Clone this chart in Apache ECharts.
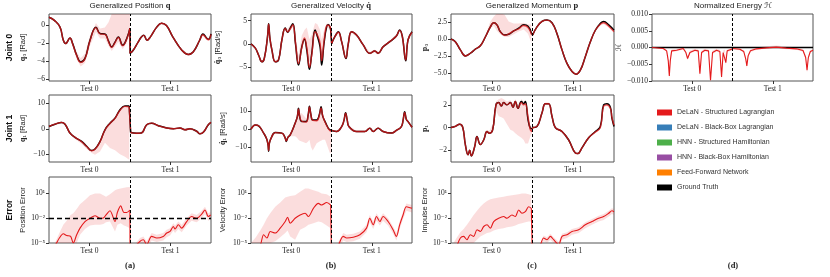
<!DOCTYPE html>
<html><head><meta charset="utf-8">
<script src="https://cdn.jsdelivr.net/npm/echarts@6/dist/echarts.min.js"></script>
<style>html,body{margin:0;padding:0;background:#fff}#c{width:830px;height:277px}</style>
</head><body><div id="c"></div>
<script>
// ---------------- DATA ----------------
const TEST_LABELS = ['Test 0', 'Test 1'];
const LEGEND_NAMES = ['DeLaN - Structured Lagrangian','DeLaN - Black-Box Lagrangian','HNN - Structured Hamiltonian','HNN - Black-Box Hamiltonian','Feed-Forward Network','Ground Truth'];

// Generalized position, joint 0
const posJ0_x = [0,0.07,0.136,0.177,0.206,0.259,0.292,0.342,0.391,0.444,0.506,0.58,0.63,0.69,0.735,0.774,0.815,0.856,0.91,0.96,0.999, 1.001,1.04,1.10,1.14,1.17,1.21,1.25,1.33,1.39,1.45,1.53,1.64,1.72,1.78,1.86,1.90,1.95,1.97,2.0];
const posJ0_truth = [0.84,0.47,-0.25,-1.7,-2.07,-1.45,-2.07,-3.35,-4.1,-3.7,-1.7,-0.25,-0.95,-1.0,-1.8,-2.44,-1.9,-1.35,-2.25,-1.5,-0.35, -3.16,-2.8,-1.9,-1.35,-1.16,-1.7,-1.35,-0.25,0.18,-0.07,-1.35,-2.8,-3.27,-3.0,-1.7,-1.0,-1.5,-1.6,-1.0];
const posJ0_pred = [0.84,0.47,-0.25,-1.7,-2.07,-1.45,-2.1,-3.4,-4.15,-3.75,-1.75,-0.3,-1.0,-1.05,-1.85,-2.5,-1.95,-1.4,-2.3,-1.55,-0.4, -3.16,-2.8,-1.9,-1.35,-1.16,-1.7,-1.35,-0.25,0.18,-0.07,-1.35,-2.8,-3.27,-3.0,-1.7,-1.1,-1.55,-1.65,-1.05];
const posJ0_lo = [0.8,0.42,-0.32,-1.8,-2.2,-1.6,-2.3,-3.8,-4.6,-4.2,-2.3,-0.8,-1.5,-1.5,-2.3,-2.9,-2.4,-1.9,-2.7,-2.0,-1.0, -3.25,-2.9,-2.0,-1.45,-1.26,-1.8,-1.45,-0.35,0.08,-0.17,-1.45,-2.9,-3.37,-3.1,-1.8,-1.25,-1.7,-1.75,-1.15];
const posJ0_hi = [0.88,0.52,-0.18,-1.6,-1.95,-1.3,-1.85,-3.0,-3.7,-3.2,-1.2,0.2,-0.4,-0.3,0.3,1.2,2.5,3,3,3,3, -3.07,-2.7,-1.8,-1.25,-1.06,-1.6,-1.25,-0.15,0.28,0.03,-1.25,-2.7,-3.17,-2.9,-1.6,-0.9,-1.4,-1.45,-0.9];

// Generalized position, joint 1
const posJ1_x = [0,0.074,0.156,0.198,0.259,0.321,0.403,0.465,0.527,0.568,0.63,0.691,0.753,0.815,0.877,0.938,0.99, 1.008,1.08,1.14,1.206,1.267,1.35,1.453,1.535,1.617,1.679,1.74,1.823,1.864,1.905,1.967,2.0];
const posJ1_truth = [0.9,1.8,2.5,1.8,-1.7,-3.4,-5,-6.9,-8.6,-8,-5,-0.4,2.2,4.2,7.5,9,9, -1.5,-1.8,-1.7,1.6,2.2,1.2,0.3,0,0.3,-0.4,0,-1,-2,-1.4,1.6,2.5];
const posJ1_pred = [0.9,1.8,2.5,1.8,-1.7,-3.4,-5.1,-7.0,-8.7,-8.1,-5.1,-0.5,2.1,4.1,7.3,8.8,8.6, -1.5,-1.8,-1.7,1.6,2.2,1.2,0.3,0,0.3,-0.4,0,-1,-2,-1.4,1.6,2.5];
const posJ1_lo = [0.5,1.4,2.1,1.3,-2.2,-4.0,-6.0,-8.0,-9.6,-10.2,-9.0,-5.5,-7.6,-8.5,-10.0,-11.0,-12.2, -1.9,-2.2,-2.1,1.2,1.8,0.8,-0.1,-0.4,-0.1,-0.8,-0.4,-1.4,-2.4,-1.8,1.2,2.1];
const posJ1_hi = [1.3,2.2,2.9,2.2,-1.3,-3.0,-4.6,-6.5,-8.2,-7.6,-4.6,0,2.6,4.6,7.9,9.3,9.2, -1.1,-1.4,-1.3,2.0,2.6,1.6,0.7,0.4,0.7,0,0.4,-0.6,-1.6,-1.0,2.0,2.9];

// Position error
const posErr_x = [0,0.074,0.128,0.177,0.218,0.267,0.3,0.342,0.383,0.444,0.506,0.568,0.63,0.671,0.704,0.753,0.815,0.844,0.885,0.926,0.959,0.999, 1.001,1.02,1.123,1.165,1.206,1.267,1.33,1.41,1.453,1.494,1.535,1.556,1.597,1.638,1.7,1.761,1.823,1.885,1.926,1.967,1.996];
const posErr_pred = [1e-6,5e-6,4e-5,1.3e-4,8e-5,6.3e-5,1e-5,1e-4,6.3e-4,4e-3,0.01,0.02,0.01,0.011,0.025,0.08,4e-3,0.05,0.32,0.05,0.05,0.1, 1e-7,1e-6,1.6e-5,2.5e-5,6.3e-6,6.3e-5,4e-5,6.3e-5,1.6e-4,2.5e-4,1e-3,5e-4,1.6e-3,6.3e-4,4e-3,0.016,0.01,0.032,0.1,0.016,0.025];
const posErr_lo = [1e-7,1e-7,1e-6,1e-6,1e-6,3.2e-6,1e-6,1e-5,1e-4,5e-4,1.3e-3,1.6e-3,1.6e-3,2e-3,3.2e-3,4e-3,2.5e-4,1.6e-3,2.5e-3,1.3e-3,1e-3,6.3e-4, 1e-7,1e-7,5e-6,8e-6,2e-6,2e-5,1.3e-5,2e-5,5e-5,8e-5,3.2e-4,1.6e-4,5e-4,2e-4,1.3e-3,5e-3,3.2e-3,0.01,0.032,5e-3,8e-3];
const posErr_hi = [1e-6,1e-5,1.6e-4,1.6e-3,5e-3,0.025,0.04,0.13,0.5,1.6,6.3,10,10,6.3,4,8,25,32,40,50,56,63, 1e-7,2.5e-6,4e-5,6.3e-5,1.6e-5,1.6e-4,1e-4,1.6e-4,4e-4,6.3e-4,2.5e-3,1.3e-3,4e-3,1.6e-3,0.01,0.04,0.025,0.08,0.25,0.04,0.063];
const posErrThreshold = 0.01;

// Generalized velocity, joint 0
const velJ0_x = [0,0.054,0.095,0.136,0.165,0.205,0.219,0.235,0.26,0.301,0.342,0.384,0.425,0.454,0.487,0.52,0.553,0.59,0.631,0.664,0.693,0.726,0.755,0.796,0.825,0.858,0.878,0.907,0.94,0.961,0.99, 1.002,1.043,1.085,1.126,1.179,1.208,1.249,1.311,1.394,1.476,1.538,1.579,1.641,1.724,1.806,1.847,1.88,1.922,1.951,2.0];
const velJ0_truth = [0,-0.9,-2.4,-3.8,-3.1,1.5,4.3,1.2,-1.3,-3.8,-3.4,0.9,3.4,2.5,3.4,4.3,0,-4.5,-0.6,1.0,-1.3,-5.4,-2,3,1.6,-0.6,-4.5,0.1,3.7,4.1,3.0, 0.1,1.6,2.6,0.5,-3.1,0,2.6,1.9,-0.2,-2,-1.5,-2,-0.6,0.5,1.7,3,1.6,-3.6,0.9,2.6];
const velJ0_pred = [0,-0.9,-2.4,-3.8,-3.1,1.5,4.2,1.2,-1.3,-3.8,-3.4,0.9,3.3,2.6,3.2,4.1,0.2,-4.2,-0.8,1.3,-0.8,-5.0,-2.3,2.6,1.9,0.2,-3.6,0.5,3.9,4.0,3.3, 0.1,1.6,2.5,0.5,-3.0,0,2.6,1.9,-0.2,-2,-1.5,-2,-0.6,0.5,1.7,2.9,1.6,-3.4,0.9,2.5];
const velJ0_lo = [-0.2,-1.1,-2.6,-4.0,-3.3,1.2,3.9,0.9,-1.6,-4.1,-3.7,0.5,2.9,2.2,2.8,3.6,-0.4,-4.8,-1.3,0.6,-1.6,-5.6,-2.8,2.0,1.2,-0.8,-4.6,-0.2,3.3,3.4,2.6, -0.2,1.3,2.2,0.2,-3.3,-0.3,2.3,1.6,-0.5,-2.3,-1.8,-2.3,-0.9,0.2,1.4,2.6,1.3,-3.7,0.6,2.2];
const velJ0_hi = [0.2,-0.7,-2.2,-3.6,-2.9,1.8,4.5,1.5,-1.0,-3.5,-3.1,1.3,3.7,3.2,4.0,4.5,2.0,-2.5,1.8,3.0,3.5,1.0,2.0,4.5,4.2,3.0,1.0,3.0,4.3,4.4,3.8, 0.4,1.9,2.8,0.8,-2.7,0.3,2.9,2.2,0.1,-1.7,-1.2,-1.7,-0.3,0.8,2.0,3.2,1.9,-3.1,1.2,2.8];

// Generalized velocity, joint 1
const velJ1_x = [0,0.054,0.095,0.157,0.195,0.212,0.219,0.228,0.25,0.301,0.384,0.425,0.437,0.46,0.487,0.548,0.575,0.59,0.605,0.631,0.685,0.71,0.726,0.745,0.767,0.816,0.85,0.87,0.89,0.92,0.981,0.999, 1.002,1.064,1.126,1.155,1.175,1.196,1.216,1.311,1.414,1.476,1.518,1.579,1.641,1.744,1.806,1.868,1.889,1.909,1.93,1.951,2.0];
const velJ1_truth = [0,2.4,1.9,-2.2,-5.5,-9,-12.5,-8,-5,-1.9,-2.2,-5,-6.9,-4.5,-3.2,3.4,7,11.8,7,4.3,4.3,8,13,8,5.2,5.2,8.5,12.7,7.5,4.3,-0.4,-0.5, -0.7,-1.3,1.5,5,9.3,5,1.5,-1.3,-1.3,0.6,-1.3,0.6,-1.3,-2.2,-0.7,1.5,5,9.9,5.5,4.3,1.1];
const velJ1_pred = [0,2.4,1.9,-2.2,-5.5,-9,-12,-8,-5,-1.9,-2.2,-5,-6.6,-4.5,-3.2,3.4,7,11.5,7.2,4.5,4.0,8,12.5,8,5.0,4.8,8,12.0,7.8,4.0,-0.8,-1.0, -0.7,-1.3,1.5,5,9.0,5,1.5,-1.3,-1.3,0.6,-1.3,0.6,-1.3,-2.2,-0.7,1.5,5,9.5,5.5,4.3,1.1];
const velJ1_lo = [-0.5,1.9,1.4,-2.7,-6,-9.5,-13,-8.5,-5.5,-2.4,-2.7,-5.5,-7.4,-5,-4,-4,-5,-6,-6.5,-7,-7.9,-7,-6,-10,-12,-7.9,-7,-6.5,-6,-6,-13.5,-13, -1.2,-1.8,1.0,4.5,8.5,4.5,1.0,-1.8,-1.8,0.1,-1.8,0.1,-1.8,-2.7,-1.2,1.0,4.5,9.0,5.0,3.8,0.6];
const velJ1_hi = [0.5,2.9,2.4,-1.7,-5,-8.5,-11.5,-7.5,-4.5,-1.4,-1.7,-4.5,-6.1,-4,-2.7,4,8,12.3,9,9,6,8.5,13.3,8.5,5.7,5.5,8.7,12.8,8.3,4.8,-0.3,-0.5, -0.2,-0.8,2.0,5.5,9.8,5.5,2.0,-0.8,-0.8,1.1,-0.8,1.1,-0.8,-1.7,-0.2,2.0,5.5,10.4,6.0,4.8,1.6];

// Velocity error
const velErr_x = [0,0.06,0.115,0.157,0.198,0.239,0.301,0.363,0.425,0.454,0.487,0.548,0.61,0.672,0.713,0.775,0.837,0.878,0.94,0.99, 1.001,1.05,1.085,1.146,1.188,1.27,1.353,1.435,1.476,1.518,1.559,1.6,1.641,1.703,1.765,1.806,1.847,1.889,1.93,2.0];
const velErr_pred = [1e-7,1e-6,5e-6,1e-4,4e-5,2.5e-4,1.6e-4,6.3e-4,4e-3,0.013,2.5e-3,0.01,0.025,0.04,0.016,0.16,0.63,0.4,0.8,0.4, 1e-8,1e-6,5e-6,6.3e-5,4e-5,5e-5,1e-4,6.3e-4,0.01,1.6e-3,0.016,4e-3,0.016,4e-3,4e-4,6.3e-5,1.6e-3,0.025,0.25,0.16];
const velErr_lo = [1e-8,1e-7,1e-7,1e-6,6.3e-6,1e-5,1.6e-5,5e-5,1.6e-4,3.2e-4,6.3e-5,2.5e-5,4e-4,8e-4,1.6e-3,2.5e-3,4e-3,3.2e-3,1.3e-3,6.3e-4, 1e-8,3.2e-7,1.6e-6,2e-5,1.3e-5,1.6e-5,3.2e-5,2e-4,3.2e-3,5e-4,5e-3,1.3e-3,5e-3,1.3e-3,1.3e-4,2e-5,5e-4,8e-3,0.08,0.05];
const velErr_hi = [1e-5,5e-5,3.2e-4,1.6e-3,0.01,0.04,0.25,0.8,3.2,4,5,6.3,16,40,40,25,16,10,7.9,4, 1e-8,2.5e-6,1.3e-5,1.6e-4,1e-4,1.3e-4,2.5e-4,1.6e-3,0.025,4e-3,0.04,0.01,0.04,0.01,1e-3,1.6e-4,4e-3,0.063,0.63,0.4];

// Generalized momentum, joint 0
const momJ0_x = [0,0.053,0.115,0.176,0.237,0.299,0.36,0.421,0.483,0.524,0.564,0.605,0.658,0.708,0.769,0.83,0.892,0.945,0.986, 1.002,1.055,1.117,1.178,1.239,1.3,1.362,1.423,1.485,1.534,1.587,1.648,1.71,1.771,1.832,1.873,1.935,2.0];
const momJ0_truth = [0,-0.4,-1.6,-2.5,-2.1,-1.5,-1.0,0.3,1.8,2.4,2.1,1.1,0.6,0.7,1.2,1.6,2.1,1.9,0.9, 0.6,1.8,2.6,2.8,2.4,0.8,-1.6,-3.6,-4.8,-5.2,-4.6,-2.6,-0.4,1.3,2.3,2.6,2.1,1.3];
const momJ0_pred = [0,-0.4,-1.6,-2.5,-2.1,-1.5,-1.0,0.3,1.8,2.4,2.1,1.1,0.55,0.75,1.2,1.5,2.0,1.7,0.7, 0.6,1.8,2.6,2.8,2.4,0.8,-1.6,-3.6,-4.8,-5.2,-4.6,-2.6,-0.4,1.3,2.2,2.4,1.9,1.1];
const momJ0_lo = [-0.1,-0.5,-1.7,-2.6,-2.2,-1.6,-1.1,0.1,1.5,2.0,1.2,0.7,0.3,0.3,0.7,1.1,1.4,0.8,-0.6, 0.5,1.7,2.5,2.7,2.3,0.7,-1.7,-3.7,-4.9,-5.3,-4.7,-2.7,-0.5,1.2,2.0,2.2,1.7,0.9];
const momJ0_hi = [0.1,-0.3,-1.5,-2.4,-2.0,-1.4,-0.8,0.5,2.6,3.3,3.8,3.8,3.6,2.6,2.3,2.3,2.4,2.2,2.1, 0.7,1.9,2.7,2.9,2.5,0.9,-1.5,-3.5,-4.7,-5.1,-4.5,-2.5,-0.3,1.4,2.5,2.7,2.2,1.4];

// Generalized momentum, joint 1
const momJ1_x = [0,0.053,0.106,0.143,0.176,0.209,0.229,0.249,0.29,0.319,0.36,0.401,0.442,0.47,0.511,0.552,0.585,0.618,0.646,0.687,0.728,0.761,0.789,0.822,0.863,0.892,0.912,0.945,0.973,0.994, 1.002,1.055,1.117,1.157,1.198,1.239,1.28,1.362,1.444,1.526,1.555,1.607,1.689,1.771,1.832,1.873,1.914,1.955,1.975,2.0];
const momJ1_truth = [0,0.1,0.3,0.05,-1.5,-2.4,-2.0,-2.5,-1.7,-0.8,-1.5,-1.1,-0.35,-0.5,-0.2,2.0,2.2,1.9,2.2,2.0,2.2,1.8,2.3,1.7,2.3,2.1,2.3,0.7,-0.05,-0.1, 0,0.1,1.3,2.1,2.1,1.0,0.0,-0.35,-1.1,-2.25,-2.3,-1.8,-0.9,-0.35,0.1,2.0,2.1,1.8,0.8,0.1];
const momJ1_pred = [0,0.1,0.3,0.05,-1.5,-2.4,-2.0,-2.5,-1.7,-0.8,-1.5,-1.1,-0.35,-0.5,-0.2,2.0,2.2,1.9,2.2,2.0,2.2,1.8,2.3,1.7,2.2,2.0,2.1,0.9,-0.2,-0.35, 0,0.1,1.3,2.1,2.1,1.0,0.0,-0.35,-1.1,-2.25,-2.3,-1.8,-0.9,-0.4,0.0,1.9,2.0,1.7,0.9,0.2];
const momJ1_lo = [-0.1,0,0.2,-0.1,-1.6,-2.5,-2.1,-2.6,-1.8,-0.9,-1.6,-1.2,-0.45,-0.6,-0.4,1.5,1.0,0.9,0.8,0.3,-0.2,-0.3,-0.5,-0.7,-0.9,-1.1,-1.4,-1.4,-0.8,-0.5, -0.1,0,1.2,2.0,2.0,0.9,-0.1,-0.45,-1.2,-2.35,-2.4,-1.9,-1.0,-0.5,-0.1,1.8,1.9,1.6,0.8,0.1];
const momJ1_hi = [0.1,0.2,0.4,0.15,-1.4,-2.3,-1.9,-2.4,-1.6,-0.7,-1.4,-1.0,-0.25,-0.3,0.3,2.3,2.5,2.6,2.5,2.3,2.4,2.1,2.5,2.0,2.5,2.3,2.4,1.5,0.2,0, 0.1,0.2,1.4,2.2,2.2,1.1,0.1,-0.25,-1.0,-2.15,-2.2,-1.7,-0.8,-0.3,0.1,2.0,2.1,1.8,1.0,0.3];

// Impulse error
const momErr_x = [0,0.074,0.115,0.155,0.196,0.237,0.278,0.319,0.36,0.401,0.442,0.483,0.524,0.585,0.646,0.687,0.748,0.789,0.83,0.871,0.912,0.953,0.986, 1.001,1.096,1.137,1.178,1.219,1.26,1.321,1.362,1.423,1.485,1.566,1.648,1.73,1.812,1.873,1.935,1.975,2.0];
const momErr_pred = [1e-7,5e-6,4e-5,6.3e-5,2.5e-5,1e-4,6.3e-5,4e-4,2.5e-4,1e-3,1.6e-3,6.3e-4,4e-3,0.01,0.016,0.01,0.025,0.016,0.1,0.04,0.063,0.25,0.16, 1e-8,5e-6,4e-5,2.5e-5,6.3e-5,2.5e-5,6.3e-6,6.3e-5,1e-4,2.5e-4,4e-4,1.6e-3,4e-3,0.01,0.016,0.04,0.08,0.063];
const momErr_lo = [1e-8,1e-7,3.2e-7,1e-6,3.2e-6,6.3e-6,1e-5,2.5e-5,6.3e-5,1e-4,1.6e-4,2e-4,3.2e-4,5e-4,6.3e-4,8e-4,1e-3,1.3e-3,2e-3,2.5e-3,3.2e-3,4e-3,4e-3, 1e-8,2e-6,1.6e-5,1e-5,2.5e-5,1e-5,2.5e-6,2.5e-5,4e-5,1e-4,1.6e-4,6.3e-4,1.6e-3,4e-3,6.3e-3,0.016,0.032,0.025];
const momErr_hi = [3.2e-6,5e-5,2e-4,5e-4,1.6e-3,6.3e-3,0.025,0.08,0.25,0.63,1.26,2,2.5,3.2,4,5,6.3,7,7.9,10,10,7.9,6.3, 1e-8,1e-5,8e-5,5e-5,1.3e-4,5e-5,1.3e-5,1.3e-4,2e-4,5e-4,8e-4,3.2e-3,8e-3,0.02,0.032,0.08,0.16,0.13];

// Normalized energy
const energy_x = [0,0.14,0.182,0.202,0.215,0.227,0.244,0.306,0.388,0.421,0.442,0.471,0.533,0.574,0.595,0.616,0.657,0.702,0.727,0.752,0.802,0.843,0.864,0.884,0.905,0.917,0.934,0.992, 1.0,1.091,1.14,1.165,1.178,1.194,1.223,1.298,1.421,1.545,1.669,1.793,1.876,1.909,1.926,1.942,1.967,2.0];
const energy_pred = [0,-0.0003,-0.001,-0.004,-0.0085,-0.004,-0.001,-0.0008,-0.0003,-0.0015,-0.0033,-0.0015,-0.0008,-0.001,-0.0078,-0.0015,-0.0008,-0.001,-0.0098,-0.0015,-0.0008,-0.0012,-0.0088,-0.0015,-0.001,-0.0045,-0.001,-0.0005, -0.0003,-0.0005,-0.0012,-0.0035,-0.0055,-0.0025,-0.001,-0.0004,-0.0001,0.0001,-0.0002,-0.0004,-0.0009,-0.003,-0.0068,-0.003,-0.0012,-0.0008];
const energy_lo = [0,-0.0005,-0.0013,-0.005,-0.0095,-0.005,-0.0014,-0.0011,-0.0006,-0.0019,-0.0038,-0.0019,-0.0011,-0.0014,-0.0088,-0.002,-0.0011,-0.0014,-0.0105,-0.002,-0.0012,-0.0016,-0.0098,-0.002,-0.0014,-0.0055,-0.0014,-0.0009, -0.0006,-0.0008,-0.0016,-0.0042,-0.0062,-0.0032,-0.0014,-0.0007,-0.0004,-0.0002,-0.0005,-0.0007,-0.0013,-0.0037,-0.0075,-0.0037,-0.0016,-0.0011];
const energy_hi = [0,-0.0001,-0.0006,-0.0025,-0.0065,-0.0025,-0.0006,-0.0004,0.0001,-0.0009,-0.0025,-0.0009,-0.0004,-0.0006,-0.0055,-0.0009,-0.0004,-0.0006,-0.0075,-0.0009,-0.0004,-0.0007,-0.0065,-0.0009,-0.0006,-0.003,-0.0006,-0.0002, 0,-0.0002,-0.0008,-0.0028,-0.0048,-0.0018,-0.0006,0.0001,0.0004,0.0006,0.0003,0.0001,-0.0005,-0.0023,-0.006,-0.0023,-0.0008,-0.0005];
const energyTruth_x = [0, 1, 2];
const energyTruth = [0, 0, 0];

// Tick values
const ticksPosJ0 = [-6,-4,-2,0];
const ticksPosJ1 = [-10,0,10];
const ticksVelJ0 = [-5,0,5];
const ticksVelJ1 = [-10,0,10];
const ticksMomJ0 = [-5,-2.5,0,2.5];
const ticksMomJ1 = [-2,0,2];
const ticksEnergy = [-0.01,-0.005,0,0.005,0.01];
const ticksErr = [1e-5,1e-2,1e1];

// ---------------- STYLE / LAYOUT ----------------
const SANS = '"Liberation Sans","DejaVu Sans",sans-serif';
const SERIF = '"Liberation Serif","DejaVu Serif",serif';
const RED = '#e41a1c';
const BAND = 'rgba(228,26,28,0.15)';
const COLS = [{left:49,width:162},{left:251,width:161},{left:451,width:163},{left:652,width:161}];
const ROWS = [{top:14,height:67},{top:95,height:67},{top:177,height:66}];

function fmtLin(dec){ return v => (v < -1e-12 ? '\u2212' : '') + Math.abs(v).toFixed(dec); }
const SUP = {'-':'\u207B','0':'\u2070','1':'\u00B9','2':'\u00B2','3':'\u00B3','4':'\u2074','5':'\u2075','6':'\u2076','7':'\u2077','8':'\u2078','9':'\u2079'};
function fmtLog(v){ const e = Math.round(Math.log10(v)); return '10' + String(e).split('').map(c => SUP[c]).join(''); }

const RICH = {
  j: {fontFamily: SANS, fontWeight: 'bold', fontSize: 8.5, lineHeight: 13, color: '#111'},
  n: {fontFamily: SANS, fontSize: 7.5, lineHeight: 13, color: '#222'},
  b: {fontFamily: SERIF, fontWeight: 'bold', fontSize: 8, lineHeight: 13, color: '#222'}
};

const panels = [
  {c:0,r:0,x:posJ0_x,truth:posJ0_truth,pred:posJ0_pred,lo:posJ0_lo,hi:posJ0_hi,min:-6.2,max:1.2,ticks:ticksPosJ0,fmt:fmtLin(0),name:'{j|Joint 0}\n{b|q}{n|\u2080 [Rad]}',gap:20},
  {c:0,r:1,x:posJ1_x,truth:posJ1_truth,pred:posJ1_pred,lo:posJ1_lo,hi:posJ1_hi,min:-13.1,max:13.3,ticks:ticksPosJ1,fmt:fmtLin(0),name:'{j|Joint 1}\n{b|q}{n|\u2081 [Rad]}',gap:20},
  {c:0,r:2,log:true,x:posErr_x,pred:posErr_pred,lo:posErr_lo,hi:posErr_hi,min:1e-5,max:1e3,ticks:ticksErr,fmt:fmtLog,name:'{j|Error}\n{n|Position Error}',gap:20,hline:posErrThreshold},
  {c:1,r:0,x:velJ0_x,truth:velJ0_truth,pred:velJ0_pred,lo:velJ0_lo,hi:velJ0_hi,min:-7.9,max:6.4,ticks:ticksVelJ0,fmt:fmtLin(0),name:'{b|q\u0307}{n|\u2080 [Rad/s]}',gap:27},
  {c:1,r:1,x:velJ1_x,truth:velJ1_truth,pred:velJ1_pred,lo:velJ1_lo,hi:velJ1_hi,min:-18.5,max:19.3,ticks:ticksVelJ1,fmt:fmtLin(0),name:'{b|q\u0307}{n|\u2081 [Rad/s]}',gap:22},
  {c:1,r:2,log:true,x:velErr_x,pred:velErr_pred,lo:velErr_lo,hi:velErr_hi,min:1e-5,max:1e3,ticks:ticksErr,fmt:fmtLog,name:'{n|Velocity Error}',gap:22},
  {c:2,r:0,x:momJ0_x,truth:momJ0_truth,pred:momJ0_pred,lo:momJ0_lo,hi:momJ0_hi,min:-6.2,max:3.7,ticks:ticksMomJ0,fmt:fmtLin(1),name:'{b|p}{n|\u2080}',gap:20},
  {c:2,r:1,x:momJ1_x,truth:momJ1_truth,pred:momJ1_pred,lo:momJ1_lo,hi:momJ1_hi,min:-3.04,max:2.87,ticks:ticksMomJ1,fmt:fmtLin(0),name:'{b|p}{n|\u2081}',gap:20},
  {c:2,r:2,log:true,x:momErr_x,pred:momErr_pred,lo:momErr_lo,hi:momErr_hi,min:1e-5,max:1e3,ticks:ticksErr,fmt:fmtLog,name:'{n|Impulse Error}',gap:19},
  {c:3,r:0,x:energy_x,truth:energyTruth,truthX:energyTruth_x,pred:energy_pred,lo:energy_lo,hi:energy_hi,min:-0.01,max:0.01,ticks:ticksEnergy,fmt:fmtLin(3),name:'{n|\u210B}',gap:22,sharp:true}
];

const option = {
  animation: false,
  grid: [], xAxis: [], yAxis: [], series: [],
  legend: {
    data: LEGEND_NAMES, orient: 'vertical', left: 652, top: 104,
    itemWidth: 15, itemHeight: 6, itemGap: 8, icon: 'rect', selectedMode: false,
    textStyle: {fontFamily: SANS, fontSize: 7, color: '#333'}
  },
  graphic: []
};

function pairs(xs, ys){ return xs.map((x, i) => [x, ys[i]]); }
function splitIdx(xs){ for (let i = 0; i < xs.length; i++) if (xs[i] >= 1) return i; return xs.length; }

panels.forEach((p, gi) => {
  const col = COLS[p.c], row = ROWS[p.r];
  option.grid.push({left: col.left, top: row.top, width: col.width, height: row.height, show: true, borderColor: '#555', borderWidth: 1});
  option.xAxis.push({
    type: 'value', gridIndex: gi, min: 0, max: 2,
    axisLine: {show: false, onZero: false}, splitLine: {show: false},
    axisTick: {show: true, customValues: [0.5, 1.5], length: 3, lineStyle: {color: '#333'}},
    axisLabel: {customValues: [0.5, 1.5], formatter: v => TEST_LABELS[v < 1 ? 0 : 1], fontFamily: SERIF, fontSize: 7.5, color: '#222', margin: 4}
  });
  option.yAxis.push({
    type: p.log ? 'log' : 'value', logBase: 10, gridIndex: gi, min: p.min, max: p.max,
    axisLine: {show: false, onZero: false}, splitLine: {show: false},
    axisTick: {show: true, customValues: p.ticks, length: 3, lineStyle: {color: '#333'}},
    axisLabel: {customValues: p.ticks, formatter: p.fmt, fontFamily: SERIF, fontSize: 7.5, color: '#222', margin: 4},
    name: p.name, nameLocation: 'middle', nameRotate: 90, nameGap: p.gap,
    nameTextStyle: {rich: RICH}
  });
  const k = splitIdx(p.x);
  const segs = [[0, k], [k, p.x.length]];
  // uncertainty band
  option.series.push({
    type: 'custom', xAxisIndex: gi, yAxisIndex: gi, silent: true, z: 1,
    data: p.x.map((x, i) => [x, p.lo[i], p.hi[i]]),
    encode: {x: 0, y: [1, 2]},
    renderItem: (params, api) => {
      if (params.dataIndex !== 0) return null;
      const cs = params.coordSys;
      const children = segs.map(([a, b]) => {
        const top = [], bot = [];
        for (let i = a; i < b; i++) { top.push(api.coord([p.x[i], p.hi[i]])); bot.push(api.coord([p.x[i], p.lo[i]])); }
        return {type: 'polygon', shape: {points: top.concat(bot.reverse())}, style: {fill: BAND}};
      });
      return {type: 'group', children, clipPath: {type: 'rect', shape: {x: cs.x, y: cs.y, width: cs.width, height: cs.height}}};
    }
  });
  const smooth = p.sharp ? false : (p.log ? 0.3 : 0.45);
  // ground truth
  if (p.truth) {
    const tx = p.truthX || p.x;
    const tk = splitIdx(tx);
    const base = {type: 'line', name: 'Ground Truth', xAxisIndex: gi, yAxisIndex: gi, showSymbol: false, symbol: 'none', silent: true, z: 2,
      itemStyle: {color: '#000'}, lineStyle: {color: '#000', width: 1.5}};
    if (p.truthX) {
      option.series.push(Object.assign({}, base, {data: pairs(tx, p.truth)}));
    } else {
      option.series.push(Object.assign({}, base, {smooth, data: pairs(tx.slice(0, tk), p.truth.slice(0, tk))}));
      option.series.push(Object.assign({}, base, {smooth, data: pairs(tx.slice(tk), p.truth.slice(tk))}));
      option.series.push(Object.assign({}, base, {data: [[tx[tk-1], p.truth[tk-1]], [tx[tk], p.truth[tk]]]}));
    }
  }
  // prediction
  const overlay = p.truth && !p.truthX;
  const predLine = {type: 'line', name: LEGEND_NAMES[0], xAxisIndex: gi, yAxisIndex: gi, showSymbol: false, symbol: 'none', silent: true, z: 3,
    itemStyle: {color: RED},
    lineStyle: {color: RED, width: overlay ? 1.4 : 1.1, opacity: overlay ? 0.75 : 1}};
  option.series.push(Object.assign({}, predLine, {smooth, data: pairs(p.x.slice(0, k), p.pred.slice(0, k))}));
  option.series.push(Object.assign({}, predLine, {data: [[p.x[k-1], p.pred[k-1]], [p.x[k], p.pred[k]]]}));
  const mlData = [{xAxis: 1}];
  if (p.hline) mlData.push({yAxis: p.hline, lineStyle: {type: [5, 3], width: 1.4, color: '#000'}});
  option.series.push(Object.assign({}, predLine, {smooth, data: pairs(p.x.slice(k), p.pred.slice(k)),
    markLine: {silent: true, symbol: 'none', label: {show: false}, animation: false, z: 5,
      lineStyle: {color: '#000', type: [3, 2], width: 1}, data: mlData}}));
});

// legend-only series for models not drawn in these panels
const legendColors = ['#e41a1c','#377eb8','#4daf4a','#984ea3','#ff7f00','#000000'];
[1,2,3,4].forEach(i => option.series.push({type: 'line', name: LEGEND_NAMES[i], xAxisIndex: 0, yAxisIndex: 0, data: [], itemStyle: {color: legendColors[i]}, lineStyle: {color: legendColors[i]}}));

// titles and sub-figure labels
const titleStyle = {fontFamily: SANS, fontSize: 8, fill: '#222', align: 'center', verticalAlign: 'middle',
  rich: {b: {fontFamily: SERIF, fontWeight: 'bold', fontSize: 8.5, fill: '#222'}, n: {fontFamily: SANS, fontSize: 8, fill: '#222'}}};
const titles = [
  [130, '{n|Generalized Position }{b|q}'],
  [331, '{n|Generalized Velocity }{b|q\u0307}'],
  [532, '{n|Generalized Momentum }{b|p}'],
  [733, '{n|Normalized Energy }{n|\u210B}']
];
titles.forEach(([x, t]) => option.graphic.push({type: 'text', x, y: 6, silent: true, style: Object.assign({}, titleStyle, {text: t})}));
['(a)','(b)','(c)','(d)'].forEach((t, i) => option.graphic.push({type: 'text', x: [130, 331, 532, 733][i], y: 266, silent: true,
  style: {text: t, fontFamily: SERIF, fontWeight: 'bold', fontSize: 8.5, fill: '#222', align: 'center', verticalAlign: 'middle'}}));

const chart = echarts.init(document.getElementById('c'), null, {renderer: 'canvas'});
chart.setOption(option);
</script></body></html>
